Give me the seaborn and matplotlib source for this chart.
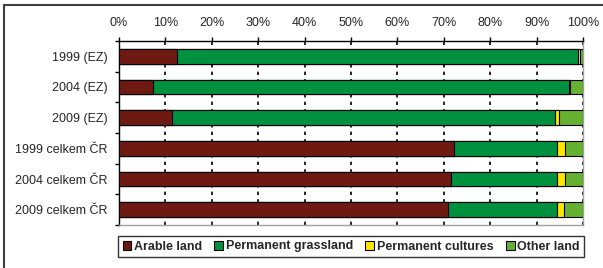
import numpy as np
import pandas as pd
import matplotlib
matplotlib.use("Agg")
import matplotlib.pyplot as plt
from matplotlib.patches import Patch, Rectangle
from matplotlib.ticker import FixedLocator, FuncFormatter
import seaborn as sns

categories = ["1999 (EZ)", "2004 (EZ)", "2009 (EZ)",
              "1999 celkem ČR", "2004 celkem ČR", "2009 celkem ČR"]
series = ["Arable land", "Permanent grassland", "Permanent cultures", "Other land"]
arable = [12.6, 7.4, 11.4, 72.3, 71.5, 71.0]
grassland = [86.4, 89.5, 82.6, 22.2, 23.0, 23.5]
cultures = [0.4, 0.2, 0.9, 1.7, 1.7, 1.4]
other = [0.6, 2.9, 5.1, 3.8, 3.8, 4.1]
colors = ["#6E1A12", "#00913F", "#FFE500", "#66B032"]

sns.set_style("white")
plt.rcParams["font.family"] = ["Liberation Sans", "DejaVu Sans"]

df = pd.DataFrame({"category": categories, "Arable land": arable,
                   "Permanent grassland": grassland,
                   "Permanent cultures": cultures, "Other land": other})
cum = df[series].cumsum(axis=1)

fig = plt.figure(figsize=(6.03, 2.68), dpi=100)
ax = fig.add_axes([119/603, 1-225/268, (583-119)/603, (225-41)/268])

for i in range(len(series) - 1, -1, -1):
    d = pd.DataFrame({"category": categories, "value": cum[series[i]].values})
    sns.barplot(data=d, y="category", x="value", orient="h", color=colors[i],
                width=0.47, edgecolor="black", linewidth=0.8, saturation=1,
                ax=ax, zorder=3)

ax.set_xlim(0, 100)
ax.set_ylim(5.5, -0.5)
ax.set_xlabel("")
ax.set_ylabel("")
ax.xaxis.tick_top()
ax.set_xticks(np.arange(0, 101, 10))
ax.xaxis.set_major_formatter(FuncFormatter(lambda v, p: f"{int(v)}%"))
ax.tick_params(axis="x", direction="out", length=3, width=1, color="black",
               labelsize=9, pad=6, top=True, bottom=False)
ax.set_yticks(range(len(categories)))
ax.set_yticklabels(categories)
ax.tick_params(axis="y", which="major", length=0, labelsize=9, pad=8)
ax.yaxis.set_minor_locator(FixedLocator(np.arange(-0.5, 6, 1.0)))
ax.tick_params(axis="y", which="minor", direction="out", length=3, width=1,
               color="black", left=True)
ax.xaxis.grid(True, color="black", linestyle=(0, (2, 2.5)), linewidth=1.2, zorder=1)
ax.set_axisbelow(True)
for s in ["top", "left"]:
    ax.spines[s].set_color("black")
    ax.spines[s].set_linewidth(1)
for s in ["bottom", "right"]:
    ax.spines[s].set_color("#A0A0A0")
    ax.spines[s].set_linewidth(1)

handles = [Patch(facecolor=c, edgecolor="black", linewidth=0.8) for c in colors]
leg = fig.legend(handles, series, loc="center",
                 bbox_to_anchor=(351/603, 1-246.5/268), ncol=4,
                 prop={"weight": "bold", "size": 9}, frameon=True, fancybox=False,
                 edgecolor="black", handlelength=0.7, handleheight=0.7,
                 handletextpad=0.2, columnspacing=1.0, borderpad=0.35,
                 borderaxespad=0)
leg.get_frame().set_linewidth(1)

fig.patches.append(Rectangle((4/603, -0.1), 1.0, 1.1 - 5/268, transform=fig.transFigure,
                             fill=False, edgecolor="#404040", linewidth=1.5))

fig.savefig("out.png", dpi=100)
